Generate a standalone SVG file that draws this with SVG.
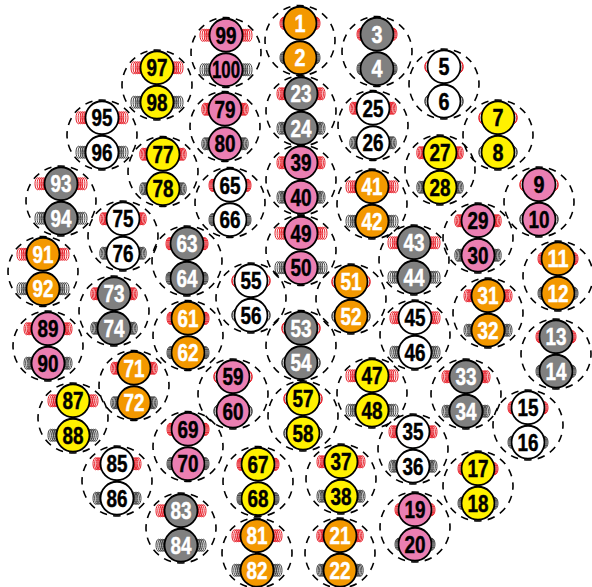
<svg xmlns="http://www.w3.org/2000/svg" width="592" height="587" viewBox="0 0 592 587">
<style>
text{font-family:"Liberation Sans",sans-serif;font-weight:700;font-size:24px;text-anchor:middle;stroke-width:.45}
.dash{fill:none;stroke:#000;stroke-width:1.6;stroke-dasharray:7.5 6.24;stroke-dashoffset:3.75}
.disk{stroke:#000;stroke-width:1.8}
ellipse{fill:none}
.red{stroke:#e8202a;stroke-width:1}
.blk{stroke:#444;stroke-width:1}
.o{fill:#f39800}.g{fill:#808080}.w{fill:#fff}.y{fill:#fff100}.p{fill:#eb7fb2}
.o text,.g text{fill:#fff;stroke:#fff}.w text,.y text,.p text{fill:#000;stroke:#000}
</style>
<defs>
<path id="ring" class="dash" d="M0-35A35 35 0 1 1 0 35A35 35 0 1 1 0-35Z"/>
<g id="c2"><ellipse cx="14.6" rx="4.2" ry="6"/><ellipse cx="15.2" rx="4" ry="6"/></g>
<g id="c3"><ellipse cx="14.6" rx="3.4" ry="6"/><ellipse cx="15.6" rx="3.4" ry="6"/><ellipse cx="16.6" rx="3.4" ry="6"/></g>
<g id="c4"><ellipse cx="15" rx="3" ry="6"/><ellipse cx="16" rx="3" ry="6"/><ellipse cx="17" rx="3" ry="6"/><ellipse cx="18" rx="3" ry="6"/></g>
<g id="c6"><ellipse cx="15" rx="2.6" ry="6"/><ellipse cx="16.4" rx="2.6" ry="6"/><ellipse cx="17.8" rx="2.6" ry="6"/><ellipse cx="19.2" rx="2.6" ry="6"/><ellipse cx="20.6" rx="2.6" ry="6"/></g>
<g id="c7"><ellipse cx="15" rx="2.6" ry="6"/><ellipse cx="16.6" rx="2.6" ry="6"/><ellipse cx="18.2" rx="2.6" ry="6"/><ellipse cx="19.8" rx="2.6" ry="6"/><ellipse cx="21.4" rx="2.6" ry="6"/></g>
<g id="c8"><ellipse cx="15" rx="2.6" ry="6"/><ellipse cx="16.9" rx="2.6" ry="6"/><ellipse cx="18.8" rx="2.6" ry="6"/><ellipse cx="20.6" rx="2.6" ry="6"/><ellipse cx="22.4" rx="2.6" ry="6"/></g>
<g id="c9"><ellipse cx="15" rx="2.6" ry="6"/><ellipse cx="17.1" rx="2.6" ry="6"/><ellipse cx="19.2" rx="2.6" ry="6"/><ellipse cx="21.3" rx="2.6" ry="6"/><ellipse cx="23.4" rx="2.6" ry="6"/></g>
<g id="disks"><circle class="disk" cy="-17.25" r="16.5"/><circle class="disk" cy="17.25" r="16.5"/></g>
<g id="s2"><use href="#ring"/><g class="red"><use href="#c2" y="-17.25"/><use href="#c2" transform="translate(0,-17.25) scale(-1,1)"/></g><g class="blk"><use href="#c2" y="17.25"/><use href="#c2" transform="translate(0,17.25) scale(-1,1)"/></g><use href="#disks"/></g>
<g id="s3"><use href="#ring"/><g class="red"><use href="#c3" y="-17.25"/><use href="#c3" transform="translate(0,-17.25) scale(-1,1)"/></g><g class="blk"><use href="#c3" y="17.25"/><use href="#c3" transform="translate(0,17.25) scale(-1,1)"/></g><use href="#disks"/></g>
<g id="s4"><use href="#ring"/><g class="red"><use href="#c4" y="-17.25"/><use href="#c4" transform="translate(0,-17.25) scale(-1,1)"/></g><g class="blk"><use href="#c4" y="17.25"/><use href="#c4" transform="translate(0,17.25) scale(-1,1)"/></g><use href="#disks"/></g>
<g id="s6"><use href="#ring"/><g class="red"><use href="#c6" y="-17.25"/><use href="#c6" transform="translate(0,-17.25) scale(-1,1)"/></g><g class="blk"><use href="#c6" y="17.25"/><use href="#c6" transform="translate(0,17.25) scale(-1,1)"/></g><use href="#disks"/></g>
<g id="s7"><use href="#ring"/><g class="red"><use href="#c7" y="-17.25"/><use href="#c7" transform="translate(0,-17.25) scale(-1,1)"/></g><g class="blk"><use href="#c7" y="17.25"/><use href="#c7" transform="translate(0,17.25) scale(-1,1)"/></g><use href="#disks"/></g>
<g id="s8"><use href="#ring"/><g class="red"><use href="#c8" y="-17.25"/><use href="#c8" transform="translate(0,-17.25) scale(-1,1)"/></g><g class="blk"><use href="#c8" y="17.25"/><use href="#c8" transform="translate(0,17.25) scale(-1,1)"/></g><use href="#disks"/></g>
<g id="s9"><use href="#ring"/><g class="red"><use href="#c9" y="-17.25"/><use href="#c9" transform="translate(0,-17.25) scale(-1,1)"/></g><g class="blk"><use href="#c9" y="17.25"/><use href="#c9" transform="translate(0,17.25) scale(-1,1)"/></g><use href="#disks"/></g>
</defs>
<g id="pair-1" class="o" transform="translate(300,40.5)"><use href="#s3"/><text y="-9" textLength="11" lengthAdjust="spacingAndGlyphs">1</text><text y="25.5" textLength="11" lengthAdjust="spacingAndGlyphs">2</text></g>
<g id="pair-3" class="g" transform="translate(377,51.5)"><use href="#s3"/><text y="-9" textLength="11" lengthAdjust="spacingAndGlyphs">3</text><text y="25.5" textLength="11" lengthAdjust="spacingAndGlyphs">4</text></g>
<g id="pair-5" class="w" transform="translate(444,84)"><use href="#s2"/><text y="-9" textLength="11" lengthAdjust="spacingAndGlyphs">5</text><text y="25.5" textLength="11" lengthAdjust="spacingAndGlyphs">6</text></g>
<g id="pair-7" class="y" transform="translate(498,135)"><use href="#s2"/><text y="-9" textLength="11" lengthAdjust="spacingAndGlyphs">7</text><text y="25.5" textLength="11" lengthAdjust="spacingAndGlyphs">8</text></g>
<g id="pair-9" class="p" transform="translate(539,202)"><use href="#s2"/><text y="-9" textLength="11" lengthAdjust="spacingAndGlyphs">9</text><text y="25.5" textLength="21" lengthAdjust="spacingAndGlyphs">10</text></g>
<g id="pair-11" class="o" transform="translate(558,276)"><use href="#s3"/><text y="-9" textLength="21" lengthAdjust="spacingAndGlyphs">11</text><text y="25.5" textLength="21" lengthAdjust="spacingAndGlyphs">12</text></g>
<g id="pair-13" class="g" transform="translate(556,354)"><use href="#s3"/><text y="-9" textLength="21" lengthAdjust="spacingAndGlyphs">13</text><text y="25.5" textLength="21" lengthAdjust="spacingAndGlyphs">14</text></g>
<g id="pair-15" class="w" transform="translate(528,425)"><use href="#s3"/><text y="-9" textLength="21" lengthAdjust="spacingAndGlyphs">15</text><text y="25.5" textLength="21" lengthAdjust="spacingAndGlyphs">16</text></g>
<g id="pair-17" class="y" transform="translate(478,486)"><use href="#s3"/><text y="-9" textLength="21" lengthAdjust="spacingAndGlyphs">17</text><text y="25.5" textLength="21" lengthAdjust="spacingAndGlyphs">18</text></g>
<g id="pair-19" class="p" transform="translate(415,527)"><use href="#s3"/><text y="-9" textLength="21" lengthAdjust="spacingAndGlyphs">19</text><text y="25.5" textLength="21" lengthAdjust="spacingAndGlyphs">20</text></g>
<g id="pair-21" class="o" transform="translate(340,553)"><use href="#s6"/><text y="-9" textLength="21" lengthAdjust="spacingAndGlyphs">21</text><text y="25.5" textLength="21" lengthAdjust="spacingAndGlyphs">22</text></g>
<g id="pair-23" class="g" transform="translate(301,111)"><use href="#s7"/><text y="-9" textLength="21" lengthAdjust="spacingAndGlyphs">23</text><text y="25.5" textLength="21" lengthAdjust="spacingAndGlyphs">24</text></g>
<g id="pair-25" class="w" transform="translate(373,125.5)"><use href="#s6"/><text y="-9" textLength="21" lengthAdjust="spacingAndGlyphs">25</text><text y="25.5" textLength="21" lengthAdjust="spacingAndGlyphs">26</text></g>
<g id="pair-27" class="y" transform="translate(440,170)"><use href="#s6"/><text y="-9" textLength="21" lengthAdjust="spacingAndGlyphs">27</text><text y="25.5" textLength="21" lengthAdjust="spacingAndGlyphs">28</text></g>
<g id="pair-29" class="p" transform="translate(478,238)"><use href="#s6"/><text y="-9" textLength="21" lengthAdjust="spacingAndGlyphs">29</text><text y="25.5" textLength="21" lengthAdjust="spacingAndGlyphs">30</text></g>
<g id="pair-31" class="o" transform="translate(488,313)"><use href="#s7"/><text y="-9" textLength="21" lengthAdjust="spacingAndGlyphs">31</text><text y="25.5" textLength="21" lengthAdjust="spacingAndGlyphs">32</text></g>
<g id="pair-33" class="g" transform="translate(466,394)"><use href="#s7"/><text y="-9" textLength="21" lengthAdjust="spacingAndGlyphs">33</text><text y="25.5" textLength="21" lengthAdjust="spacingAndGlyphs">34</text></g>
<g id="pair-35" class="w" transform="translate(413,449)"><use href="#s7"/><text y="-9" textLength="21" lengthAdjust="spacingAndGlyphs">35</text><text y="25.5" textLength="21" lengthAdjust="spacingAndGlyphs">36</text></g>
<g id="pair-37" class="y" transform="translate(341,479)"><use href="#s7"/><text y="-9" textLength="21" lengthAdjust="spacingAndGlyphs">37</text><text y="25.5" textLength="21" lengthAdjust="spacingAndGlyphs">38</text></g>
<g id="pair-39" class="p" transform="translate(301,180)"><use href="#s7"/><text y="-9" textLength="21" lengthAdjust="spacingAndGlyphs">39</text><text y="25.5" textLength="21" lengthAdjust="spacingAndGlyphs">40</text></g>
<g id="pair-41" class="o" transform="translate(372,204)"><use href="#s9"/><text y="-9" textLength="21" lengthAdjust="spacingAndGlyphs">41</text><text y="25.5" textLength="21" lengthAdjust="spacingAndGlyphs">42</text></g>
<g id="pair-43" class="g" transform="translate(414,260)"><use href="#s9"/><text y="-9" textLength="21" lengthAdjust="spacingAndGlyphs">43</text><text y="25.5" textLength="21" lengthAdjust="spacingAndGlyphs">44</text></g>
<g id="pair-45" class="w" transform="translate(415,335)"><use href="#s8"/><text y="-9" textLength="21" lengthAdjust="spacingAndGlyphs">45</text><text y="25.5" textLength="21" lengthAdjust="spacingAndGlyphs">46</text></g>
<g id="pair-47" class="y" transform="translate(372,393)"><use href="#s9"/><text y="-9" textLength="21" lengthAdjust="spacingAndGlyphs">47</text><text y="25.5" textLength="21" lengthAdjust="spacingAndGlyphs">48</text></g>
<g id="pair-49" class="p" transform="translate(301,250.5)"><use href="#s9"/><text y="-9" textLength="21" lengthAdjust="spacingAndGlyphs">49</text><text y="25.5" textLength="21" lengthAdjust="spacingAndGlyphs">50</text></g>
<g id="pair-51" class="o" transform="translate(351,299)"><use href="#s2"/><text y="-9" textLength="21" lengthAdjust="spacingAndGlyphs">51</text><text y="25.5" textLength="21" lengthAdjust="spacingAndGlyphs">52</text></g>
<g id="pair-53" class="g" transform="translate(301,345.5)"><use href="#s2"/><text y="-9" textLength="21" lengthAdjust="spacingAndGlyphs">53</text><text y="25.5" textLength="21" lengthAdjust="spacingAndGlyphs">54</text></g>
<g id="pair-55" class="w" transform="translate(251,298)"><use href="#s2"/><text y="-9" textLength="21" lengthAdjust="spacingAndGlyphs">55</text><text y="25.5" textLength="21" lengthAdjust="spacingAndGlyphs">56</text></g>
<g id="pair-57" class="y" transform="translate(303,416)"><use href="#s2"/><text y="-9" textLength="21" lengthAdjust="spacingAndGlyphs">57</text><text y="25.5" textLength="21" lengthAdjust="spacingAndGlyphs">58</text></g>
<g id="pair-59" class="p" transform="translate(233,394)"><use href="#s2"/><text y="-9" textLength="21" lengthAdjust="spacingAndGlyphs">59</text><text y="25.5" textLength="21" lengthAdjust="spacingAndGlyphs">60</text></g>
<g id="pair-61" class="o" transform="translate(188,335.5)"><use href="#s4"/><text y="-9" textLength="21" lengthAdjust="spacingAndGlyphs">61</text><text y="25.5" textLength="21" lengthAdjust="spacingAndGlyphs">62</text></g>
<g id="pair-63" class="g" transform="translate(187,261)"><use href="#s4"/><text y="-9" textLength="21" lengthAdjust="spacingAndGlyphs">63</text><text y="25.5" textLength="21" lengthAdjust="spacingAndGlyphs">64</text></g>
<g id="pair-65" class="w" transform="translate(230,202.5)"><use href="#s4"/><text y="-9" textLength="21" lengthAdjust="spacingAndGlyphs">65</text><text y="25.5" textLength="21" lengthAdjust="spacingAndGlyphs">66</text></g>
<g id="pair-67" class="y" transform="translate(258,481.5)"><use href="#s4"/><text y="-9" textLength="21" lengthAdjust="spacingAndGlyphs">67</text><text y="25.5" textLength="21" lengthAdjust="spacingAndGlyphs">68</text></g>
<g id="pair-69" class="p" transform="translate(188,446.5)"><use href="#s4"/><text y="-9" textLength="21" lengthAdjust="spacingAndGlyphs">69</text><text y="25.5" textLength="21" lengthAdjust="spacingAndGlyphs">70</text></g>
<g id="pair-71" class="o" transform="translate(134,385.5)"><use href="#s6"/><text y="-9" textLength="21" lengthAdjust="spacingAndGlyphs">71</text><text y="25.5" textLength="21" lengthAdjust="spacingAndGlyphs">72</text></g>
<g id="pair-73" class="g" transform="translate(114,311)"><use href="#s6"/><text y="-9" textLength="21" lengthAdjust="spacingAndGlyphs">73</text><text y="25.5" textLength="21" lengthAdjust="spacingAndGlyphs">74</text></g>
<g id="pair-75" class="w" transform="translate(123,236)"><use href="#s6"/><text y="-9" textLength="21" lengthAdjust="spacingAndGlyphs">75</text><text y="25.5" textLength="21" lengthAdjust="spacingAndGlyphs">76</text></g>
<g id="pair-77" class="y" transform="translate(163,171.5)"><use href="#s6"/><text y="-9" textLength="21" lengthAdjust="spacingAndGlyphs">77</text><text y="25.5" textLength="21" lengthAdjust="spacingAndGlyphs">78</text></g>
<g id="pair-79" class="p" transform="translate(225,126.5)"><use href="#s6"/><text y="-9" textLength="21" lengthAdjust="spacingAndGlyphs">79</text><text y="25.5" textLength="21" lengthAdjust="spacingAndGlyphs">80</text></g>
<g id="pair-81" class="o" transform="translate(257,553)"><use href="#s8"/><text y="-9" textLength="21" lengthAdjust="spacingAndGlyphs">81</text><text y="25.5" textLength="21" lengthAdjust="spacingAndGlyphs">82</text></g>
<g id="pair-83" class="g" transform="translate(181,528)"><use href="#s8"/><text y="-9" textLength="21" lengthAdjust="spacingAndGlyphs">83</text><text y="25.5" textLength="21" lengthAdjust="spacingAndGlyphs">84</text></g>
<g id="pair-85" class="w" transform="translate(117,481)"><use href="#s7"/><text y="-9" textLength="21" lengthAdjust="spacingAndGlyphs">85</text><text y="25.5" textLength="21" lengthAdjust="spacingAndGlyphs">86</text></g>
<g id="pair-87" class="y" transform="translate(73,418)"><use href="#s8"/><text y="-9" textLength="21" lengthAdjust="spacingAndGlyphs">87</text><text y="25.5" textLength="21" lengthAdjust="spacingAndGlyphs">88</text></g>
<g id="pair-89" class="p" transform="translate(48,346)"><use href="#s7"/><text y="-9" textLength="21" lengthAdjust="spacingAndGlyphs">89</text><text y="25.5" textLength="21" lengthAdjust="spacingAndGlyphs">90</text></g>
<g id="pair-91" class="o" transform="translate(43,271.5)"><use href="#s9"/><text y="-9" textLength="21" lengthAdjust="spacingAndGlyphs">91</text><text y="25.5" textLength="21" lengthAdjust="spacingAndGlyphs">92</text></g>
<g id="pair-93" class="g" transform="translate(61,201)"><use href="#s9"/><text y="-9" textLength="21" lengthAdjust="spacingAndGlyphs">93</text><text y="25.5" textLength="21" lengthAdjust="spacingAndGlyphs">94</text></g>
<g id="pair-95" class="w" transform="translate(102,135)"><use href="#s9"/><text y="-9" textLength="21" lengthAdjust="spacingAndGlyphs">95</text><text y="25.5" textLength="21" lengthAdjust="spacingAndGlyphs">96</text></g>
<g id="pair-97" class="y" transform="translate(157,85)"><use href="#s9"/><text y="-9" textLength="21" lengthAdjust="spacingAndGlyphs">97</text><text y="25.5" textLength="21" lengthAdjust="spacingAndGlyphs">98</text></g>
<g id="pair-99" class="p" transform="translate(226,52.5)"><use href="#s9"/><text y="-9" textLength="21" lengthAdjust="spacingAndGlyphs">99</text><text y="25.5" textLength="28" lengthAdjust="spacingAndGlyphs">100</text></g>
</svg>
